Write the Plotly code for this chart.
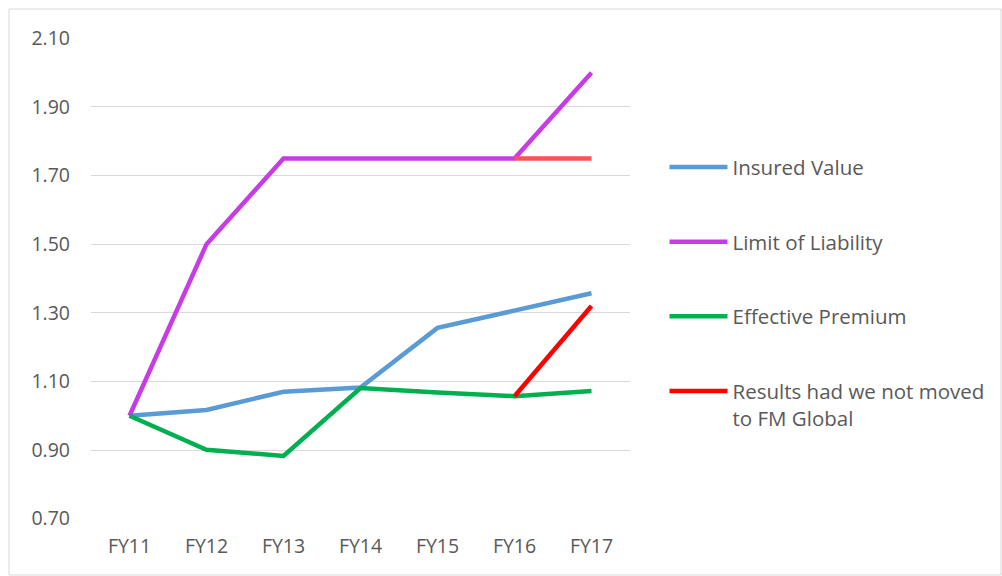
import plotly.graph_objects as go

years = ["FY11", "FY12", "FY13", "FY14", "FY15", "FY16", "FY17"]
insured_value = [1.00, 1.017, 1.07, 1.082, 1.256, 1.305, 1.357]
limit_of_liability = [1.00, 1.50, 1.75, 1.75, 1.75, 1.75, 2.00]
effective_premium = [1.00, 0.901, 0.883, 1.081, 1.068, 1.057, 1.072]
# Scenario without the move: premium and limit from FY16 onward
alt_years = ["FY16", "FY17"]
alt_premium = [1.057, 1.32]
alt_limit = [1.75, 1.75]

y_ticks = [0.70, 0.90, 1.10, 1.30, 1.50, 1.70, 1.90, 2.10]

BLUE = "#5B9BD5"
PURPLE = "#C83CE8"
GREEN = "#00B050"
RED = "#FF0000"
SALMON = "#FF5252"
TEXT = "#595959"
FONT = "Open Sans, Liberation Sans, sans-serif"
LW = 4.5

fig = go.Figure()
fig.add_trace(go.Scatter(x=years, y=insured_value, mode="lines", name="Insured Value",
                         line=dict(color=BLUE, width=LW), legendgroup="a"))
fig.add_trace(go.Scatter(x=years, y=limit_of_liability, mode="lines", name="Limit of Liability",
                         line=dict(color=PURPLE, width=LW), legendgroup="b"))
fig.add_trace(go.Scatter(x=years, y=effective_premium, mode="lines", name="Effective Premium",
                         line=dict(color=GREEN, width=LW), legendgroup="c"))
fig.add_trace(go.Scatter(x=alt_years, y=alt_limit, mode="lines", showlegend=False,
                         line=dict(color=SALMON, width=LW), legendgroup="d"))
fig.add_trace(go.Scatter(x=alt_years, y=alt_premium, mode="lines",
                         name="Results had we not moved<br>to FM Global",
                         line=dict(color=RED, width=LW), legendgroup="d"))

fig.update_layout(
    width=1002, height=576,
    margin=dict(l=91, r=372, t=38, b=57),
    paper_bgcolor="white", plot_bgcolor="white",
    font=dict(family=FONT, color=TEXT, size=19),
    legend=dict(x=1.064, xanchor="left", y=0.773, yanchor="top",
                font=dict(size=20.5, color=TEXT), itemwidth=58,
                tracegroupgap=45, valign="top", bgcolor="rgba(0,0,0,0)"),
    xaxis=dict(type="category", categoryorder="array", categoryarray=years,
               range=[-0.5, 6.5], showgrid=False, showline=False, zeroline=False,
               ticks="", ticklabelstandoff=13, tickfont=dict(size=19.5, color=TEXT)),
    yaxis=dict(range=[0.699, 2.101], tickvals=y_ticks,
               ticktext=[f"{v:.2f}" for v in y_ticks],
               showgrid=True, gridcolor="#D9D9D9", gridwidth=1,
               zeroline=False, showline=False, ticks="", ticklabelstandoff=20,
               tickfont=dict(size=19.5, color=TEXT)),
    shapes=[dict(type="rect", xref="paper", yref="paper",
                 x0=(9 - 91) / 539, x1=(1001 - 91) / 539,
                 y0=-(575 - 519) / 481, y1=1 + (38 - 9) / 481,
                 line=dict(color="#D9D9D9", width=1), layer="below")],
)

fig.write_html("out.html")
